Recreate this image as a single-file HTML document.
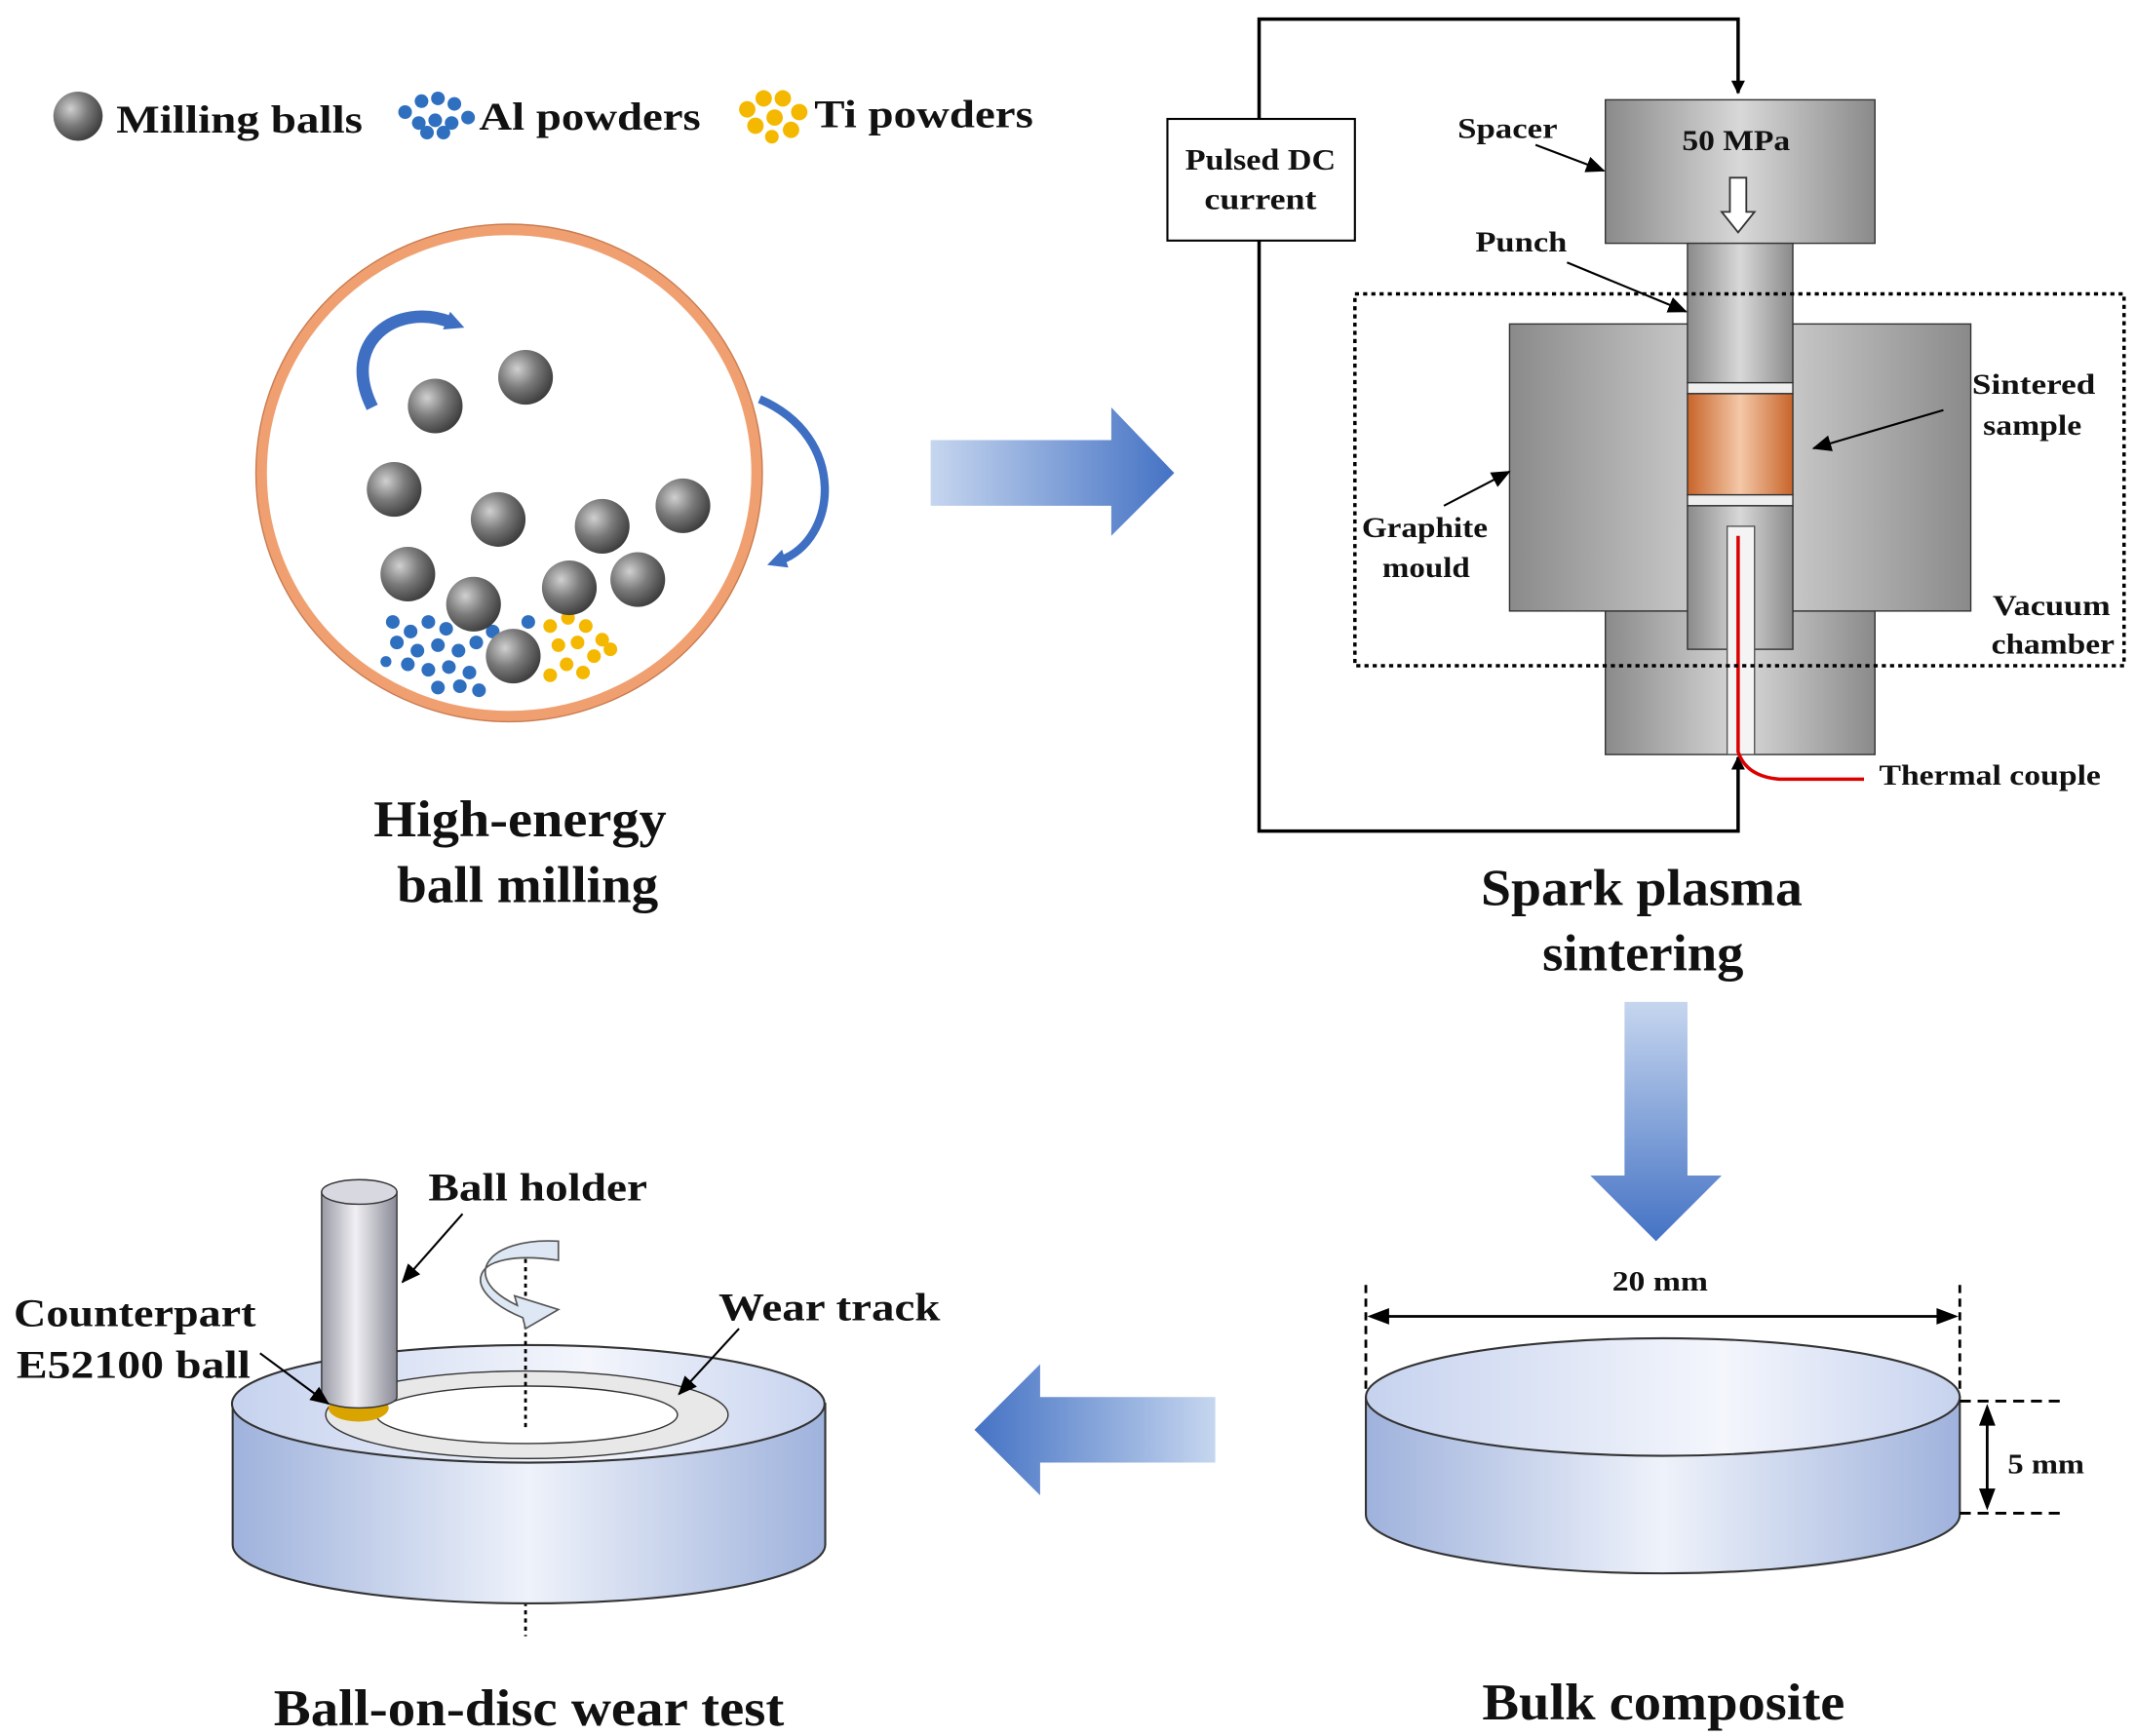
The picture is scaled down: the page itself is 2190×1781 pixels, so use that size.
<!DOCTYPE html>
<html><head><meta charset="utf-8"><style>
html,body{margin:0;padding:0;background:#fff;}
svg{display:block;}
text{font-family:"Liberation Serif",serif;font-weight:bold;fill:#111;}
</style></head><body>
<svg width="2190" height="1781" viewBox="0 0 1560 1270" preserveAspectRatio="none" xmlns="http://www.w3.org/2000/svg">
<defs>
<radialGradient id="ball" cx="0.35" cy="0.35" r="0.7"><stop offset="0" stop-color="#d0d0d0"/><stop offset="0.5" stop-color="#7a7a7a"/><stop offset="1" stop-color="#3c3c3c"/></radialGradient>
<linearGradient id="arrH" x1="0" x2="1"><stop offset="0" stop-color="#c6d6ef"/><stop offset="1" stop-color="#4472c4"/></linearGradient>
<linearGradient id="arrHL" x1="1" x2="0"><stop offset="0" stop-color="#c6d6ef"/><stop offset="1" stop-color="#4472c4"/></linearGradient>
<linearGradient id="arrV" x1="0" y1="0" x2="0" y2="1"><stop offset="0" stop-color="#c6d6ef"/><stop offset="1" stop-color="#4472c4"/></linearGradient>
<linearGradient id="gray" x1="0" x2="1"><stop offset="0" stop-color="#8a8a8a"/><stop offset="0.5" stop-color="#d8d8d8"/><stop offset="1" stop-color="#8a8a8a"/></linearGradient>
<linearGradient id="disc" x1="0" x2="1"><stop offset="0" stop-color="#9fb2dc"/><stop offset="0.5" stop-color="#eef2fa"/><stop offset="1" stop-color="#9fb2dc"/></linearGradient>
<linearGradient id="discTop" x1="0" x2="1"><stop offset="0" stop-color="#c6d2ee"/><stop offset="0.6" stop-color="#f4f6fc"/><stop offset="1" stop-color="#c6d2ee"/></linearGradient>
<linearGradient id="cyl" x1="0" x2="1"><stop offset="0" stop-color="#9a9aa6"/><stop offset="0.45" stop-color="#f0f0f4"/><stop offset="1" stop-color="#8a8a96"/></linearGradient>
<linearGradient id="sample" x1="0" x2="1"><stop offset="0" stop-color="#c8642a"/><stop offset="0.5" stop-color="#f4c8a8"/><stop offset="1" stop-color="#c8642a"/></linearGradient>
<marker id="ah" markerWidth="10" markerHeight="10" refX="9" refY="5" orient="auto" markerUnits="userSpaceOnUse"><path d="M0,0 L10,5 L0,10 z" fill="#000"/></marker>
<marker id="ahs" markerWidth="14" markerHeight="12" refX="13" refY="6" orient="auto" markerUnits="userSpaceOnUse"><path d="M0,0 L14,6 L0,12 z" fill="#000"/></marker>
<marker id="ahb" markerWidth="14" markerHeight="14" refX="4" refY="7" orient="auto" markerUnits="userSpaceOnUse"><path d="M0,0 L14,7 L0,14 z" fill="#3f6fc2"/></marker>
</defs>

<!-- Legend -->
<circle cx="57" cy="85" r="18" fill="url(#ball)"/>
<text x="85" y="97" font-size="29" textLength="180" lengthAdjust="spacingAndGlyphs">Milling balls</text>
<g fill="#2f6fbf">
<circle cx="296" cy="82" r="5"/><circle cx="308" cy="74" r="5"/><circle cx="320" cy="72" r="5"/><circle cx="332" cy="76" r="5"/><circle cx="306" cy="90" r="5"/><circle cx="318" cy="88" r="5"/><circle cx="330" cy="90" r="5"/><circle cx="342" cy="86" r="5"/><circle cx="312" cy="97" r="5"/><circle cx="324" cy="97" r="5"/>
</g>
<text x="350" y="95" font-size="29" textLength="162" lengthAdjust="spacingAndGlyphs">Al powders</text>
<g fill="#f5b800">
<circle cx="546" cy="80" r="6"/><circle cx="558" cy="72" r="6"/><circle cx="572" cy="72" r="6"/><circle cx="584" cy="82" r="6"/><circle cx="552" cy="92" r="6"/><circle cx="566" cy="86" r="6"/><circle cx="578" cy="95" r="6"/><circle cx="564" cy="100" r="5"/>
</g>
<text x="595" y="93" font-size="29" textLength="160" lengthAdjust="spacingAndGlyphs">Ti powders</text>

<!-- Ball mill -->
<ellipse cx="372" cy="346" rx="181" ry="178" fill="#fff" stroke="#f0a070" stroke-width="8"/>
<ellipse cx="372" cy="346" rx="185" ry="182" fill="none" stroke="#c97b50" stroke-width="1"/>
<path d="M272,298 C248,250 290,220 330,236" fill="none" stroke="#3f6fc2" stroke-width="9" marker-end="url(#ahb)"/>
<path d="M555,292 C620,320 612,395 570,410" fill="none" stroke="#3f6fc2" stroke-width="6" marker-end="url(#ahb)"/>
<g fill="#2f6fbf">
<circle cx="287" cy="455" r="5"/><circle cx="300" cy="462" r="5"/><circle cx="313" cy="455" r="5"/><circle cx="326" cy="460" r="5"/><circle cx="290" cy="470" r="5"/><circle cx="305" cy="476" r="5"/><circle cx="320" cy="472" r="5"/><circle cx="335" cy="476" r="5"/><circle cx="298" cy="486" r="5"/><circle cx="313" cy="490" r="5"/><circle cx="328" cy="488" r="5"/><circle cx="343" cy="492" r="5"/><circle cx="320" cy="503" r="5"/><circle cx="336" cy="502" r="5"/><circle cx="350" cy="505" r="5"/><circle cx="348" cy="470" r="5"/><circle cx="360" cy="462" r="5"/><circle cx="386" cy="455" r="5"/><circle cx="282" cy="484" r="4"/>
</g>
<g fill="#f5b800">
<circle cx="402" cy="458" r="5"/><circle cx="415" cy="452" r="5"/><circle cx="428" cy="458" r="5"/><circle cx="440" cy="468" r="5"/><circle cx="408" cy="472" r="5"/><circle cx="422" cy="470" r="5"/><circle cx="434" cy="480" r="5"/><circle cx="414" cy="486" r="5"/><circle cx="426" cy="492" r="5"/><circle cx="402" cy="494" r="5"/><circle cx="446" cy="475" r="5"/>
</g>
<g fill="url(#ball)">
<circle cx="318" cy="297" r="20"/><circle cx="384" cy="276" r="20"/><circle cx="288" cy="358" r="20"/><circle cx="364" cy="380" r="20"/><circle cx="440" cy="385" r="20"/><circle cx="499" cy="370" r="20"/><circle cx="298" cy="420" r="20"/><circle cx="346" cy="442" r="20"/><circle cx="416" cy="430" r="20"/><circle cx="466" cy="424" r="20"/><circle cx="375" cy="480" r="20"/>
</g>
<text x="273" y="612" font-size="38" textLength="214" lengthAdjust="spacingAndGlyphs">High-energy</text>
<text x="290" y="660" font-size="38" textLength="191" lengthAdjust="spacingAndGlyphs">ball milling</text>

<!-- right arrow -->
<path d="M680,322 L812,322 L812,298 L858,346 L812,392 L812,370 L680,370 Z" fill="url(#arrH)"/>

<!-- SPS circuit -->
<path d="M920,176 L920,14 L1270,14 L1270,68" fill="none" stroke="#000" stroke-width="2.5" marker-end="url(#ah)"/>
<path d="M920,176 L920,608 L1270,608 L1270,554" fill="none" stroke="#000" stroke-width="2.5" marker-end="url(#ah)"/>
<rect x="853" y="87" width="137" height="89" fill="#fff" stroke="#000" stroke-width="1.5"/>
<text x="866" y="124" font-size="22" textLength="110" lengthAdjust="spacingAndGlyphs">Pulsed DC</text>
<text x="880" y="153" font-size="22" textLength="82" lengthAdjust="spacingAndGlyphs">current</text>

<rect x="1173" y="447" width="197" height="105" fill="url(#gray)" stroke="#333"/>
<rect x="1103" y="237" width="337" height="210" fill="url(#gray)" stroke="#333"/>
<rect x="1173" y="73" width="197" height="105" fill="url(#gray)" stroke="#333"/>
<text x="1229" y="110" font-size="21" textLength="79" lengthAdjust="spacingAndGlyphs">50 MPa</text>
<path d="M1264,130 L1276,130 L1276,155 L1282,155 L1270,170 L1258,155 L1264,155 Z" fill="#fff" stroke="#333" stroke-width="1.3"/>
<rect x="1233" y="178" width="77" height="102" fill="url(#gray)" stroke="#333"/>
<rect x="1233" y="280" width="77" height="8" fill="#eee" stroke="#333"/>
<rect x="1233" y="288" width="77" height="74" fill="url(#sample)" stroke="#333"/>
<rect x="1233" y="362" width="77" height="8" fill="#eee" stroke="#333"/>
<rect x="1233" y="370" width="77" height="105" fill="url(#gray)" stroke="#333"/>
<rect x="1262" y="385" width="20" height="167" fill="#f4f4f4" stroke="#555"/>
<path d="M1270,392 L1270,550 Q1276,568 1300,570 L1362,570" fill="none" stroke="#d00" stroke-width="2.5"/>
<rect x="990" y="215" width="562" height="272" fill="none" stroke="#000" stroke-width="2.5" stroke-dasharray="3,3"/>

<text x="1065" y="101" font-size="21" textLength="73" lengthAdjust="spacingAndGlyphs">Spacer</text>
<line x1="1122" y1="106" x2="1172" y2="125" stroke="#000" stroke-width="1.5" marker-end="url(#ahs)"/>
<text x="1078" y="184" font-size="21" textLength="67" lengthAdjust="spacingAndGlyphs">Punch</text>
<line x1="1145" y1="192" x2="1232" y2="228" stroke="#000" stroke-width="1.5" marker-end="url(#ahs)"/>
<text x="1441" y="288" font-size="21" textLength="90" lengthAdjust="spacingAndGlyphs">Sintered</text>
<text x="1449" y="318" font-size="21" textLength="72" lengthAdjust="spacingAndGlyphs">sample</text>
<line x1="1420" y1="300" x2="1325" y2="328" stroke="#000" stroke-width="1.5" marker-end="url(#ahs)"/>
<text x="995" y="393" font-size="21" textLength="92" lengthAdjust="spacingAndGlyphs">Graphite</text>
<text x="1010" y="422" font-size="21" textLength="64" lengthAdjust="spacingAndGlyphs">mould</text>
<line x1="1055" y1="370" x2="1103" y2="345" stroke="#000" stroke-width="1.5" marker-end="url(#ahs)"/>
<text x="1456" y="450" font-size="21" textLength="86" lengthAdjust="spacingAndGlyphs">Vacuum</text>
<text x="1455" y="478" font-size="21" textLength="90" lengthAdjust="spacingAndGlyphs">chamber</text>
<text x="1373" y="574" font-size="21" textLength="162" lengthAdjust="spacingAndGlyphs">Thermal couple</text>

<text x="1082" y="662" font-size="38" textLength="235" lengthAdjust="spacingAndGlyphs">Spark plasma</text>
<text x="1127" y="710" font-size="38" textLength="147" lengthAdjust="spacingAndGlyphs">sintering</text>

<!-- down arrow -->
<path d="M1187,733 L1233,733 L1233,860 L1258,860 L1210,908 L1162,860 L1187,860 Z" fill="url(#arrV)"/>

<!-- Bulk disc -->
<path d="M998,1022 L998,1108 A217,43 0 0 0 1432,1108 L1432,1022 Z" fill="url(#disc)" stroke="#333" stroke-width="1.5"/>
<ellipse cx="1215" cy="1022" rx="217" ry="43" fill="url(#discTop)" stroke="#333" stroke-width="1.5"/>
<line x1="998" y1="940" x2="998" y2="1020" stroke="#000" stroke-width="2" stroke-dasharray="6,4"/>
<line x1="1432" y1="940" x2="1432" y2="1020" stroke="#000" stroke-width="2" stroke-dasharray="6,4"/>
<line x1="1012" y1="963" x2="1418" y2="963" stroke="#000" stroke-width="2"/>
<path d="M999,963 L1015,957 L1015,969 Z M1431,963 L1415,957 L1415,969 Z" fill="#000"/>
<text x="1178" y="944" font-size="20" textLength="70" lengthAdjust="spacingAndGlyphs">20 mm</text>
<line x1="1432" y1="1025" x2="1505" y2="1025" stroke="#000" stroke-width="2" stroke-dasharray="8,5"/>
<line x1="1432" y1="1107" x2="1505" y2="1107" stroke="#000" stroke-width="2" stroke-dasharray="8,5"/>
<line x1="1452" y1="1040" x2="1452" y2="1092" stroke="#000" stroke-width="2"/>
<path d="M1452,1027 L1446,1043 L1458,1043 Z M1452,1105 L1446,1089 L1458,1089 Z" fill="#000"/>
<text x="1467" y="1078" font-size="20" textLength="56" lengthAdjust="spacingAndGlyphs">5 mm</text>
<text x="1083" y="1258" font-size="38" textLength="265" lengthAdjust="spacingAndGlyphs">Bulk composite</text>

<!-- left arrow -->
<path d="M888,1022 L760,1022 L760,998 L712,1046 L760,1094 L760,1070 L888,1070 Z" fill="url(#arrHL)"/>

<!-- Wear disc -->
<line x1="384" y1="1130" x2="384" y2="1197" stroke="#000" stroke-width="2" stroke-dasharray="3,3"/>
<path d="M170,1027 L170,1130 A216.5,43 0 0 0 603,1130 L603,1027 Z" fill="url(#disc)" stroke="#333" stroke-width="1.5"/>
<ellipse cx="386" cy="1027" rx="216.5" ry="43" fill="url(#discTop)" stroke="#333" stroke-width="1.5"/>
<ellipse cx="385" cy="1035" rx="147" ry="32" fill="#e8e8e8" stroke="#333"/>
<ellipse cx="385" cy="1035" rx="110" ry="21" fill="#fff" stroke="#333"/>
<line x1="384" y1="915" x2="384" y2="1045" stroke="#000" stroke-width="2" stroke-dasharray="3,3"/>
<path d="M408,908 C355,905 335,935 378,955 L376,948 L408,958 L384,972 L382,964 C335,945 340,912 408,922 Z" fill="#dde8f4" stroke="#555" stroke-width="1.2"/>
<ellipse cx="262" cy="1030" rx="22" ry="10" fill="#d9a400"/>
<path d="M235,872 L235,1022 A27.5,8 0 0 0 290,1022 L290,872 Z" fill="url(#cyl)" stroke="#333"/>
<ellipse cx="262.5" cy="872" rx="27.5" ry="9" fill="#d8d8e0" stroke="#333"/>
<text x="313" y="878" font-size="29" textLength="160" lengthAdjust="spacingAndGlyphs">Ball holder</text>
<line x1="338" y1="888" x2="294" y2="938" stroke="#000" stroke-width="1.5" marker-end="url(#ahs)"/>
<text x="10" y="970" font-size="29" textLength="177" lengthAdjust="spacingAndGlyphs">Counterpart</text>
<text x="12" y="1008" font-size="29" textLength="171" lengthAdjust="spacingAndGlyphs">E52100 ball</text>
<line x1="190" y1="990" x2="240" y2="1027" stroke="#000" stroke-width="1.5" marker-end="url(#ahs)"/>
<text x="525" y="966" font-size="29" textLength="162" lengthAdjust="spacingAndGlyphs">Wear track</text>
<line x1="540" y1="972" x2="496" y2="1020" stroke="#000" stroke-width="1.5" marker-end="url(#ahs)"/>
<text x="200" y="1262" font-size="38" textLength="373" lengthAdjust="spacingAndGlyphs">Ball-on-disc wear test</text>
</svg>
</body></html>
